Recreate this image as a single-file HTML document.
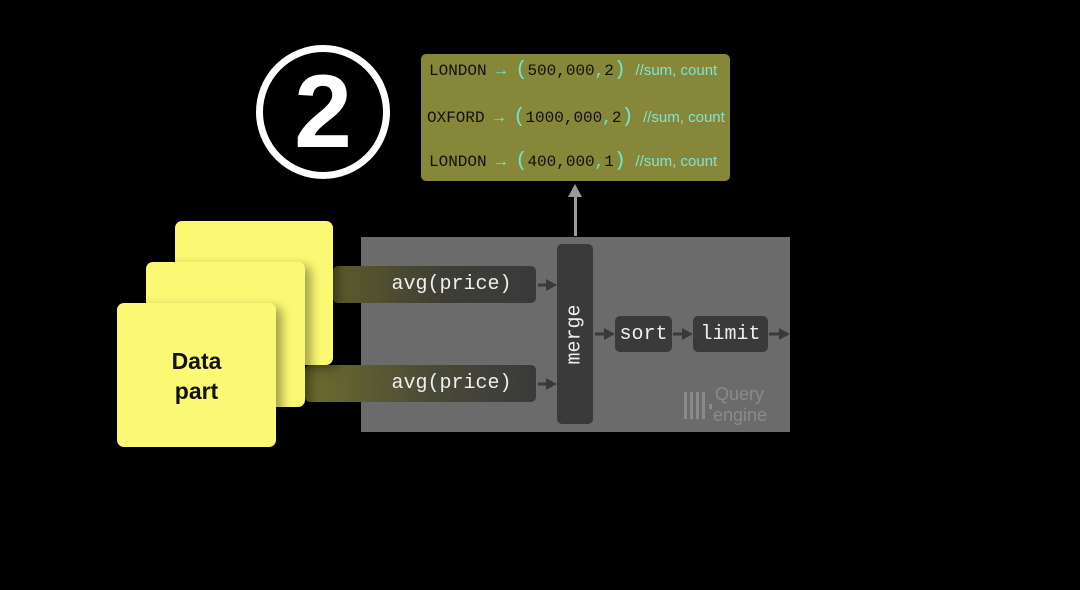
<!DOCTYPE html>
<html><head><style>
body{margin:0;width:1080px;height:590px;background:#000;position:relative;overflow:hidden;font-family:"Liberation Sans",sans-serif}
div{position:absolute;box-sizing:border-box}
.card{background:#fbf873;border-radius:7px;box-shadow:6px 4px 10px rgba(0,0,0,.35)}
.mono{font-family:"Liberation Mono",monospace}
.box{background:#3a3a3a;border-radius:5px;color:#eee;font-size:20px;display:flex;align-items:center;justify-content:center}
.ln{left:8px;font-size:16px;color:#111;white-space:pre}
.ln .c{color:#6ee7d9}
.ln .p{color:#6ee7d9;font-size:20px}
.ln .s{font-family:"Liberation Sans",sans-serif;color:#7fe3d6;font-size:15px}
</style></head><body>
<div style="left:256px;top:45px;width:134px;height:134px;border:7px solid #fff;border-radius:50%;color:#fff;font-weight:bold;font-size:104px;display:flex;align-items:center;justify-content:center;line-height:1">2</div>
<div style="left:421px;top:54px;width:309px;height:127px;background:#87873a;border-radius:5px">
<div class="ln mono" style="top:5px">LONDON <span class="c">→ </span><span class="p">(</span>500,000<span class="c">,</span>2<span class="p">)</span> <span class="s">//sum, count</span></div>
<div class="ln mono" style="top:52px;left:6px">OXFORD <span class="c">→ </span><span class="p">(</span>1000,000<span class="c">,</span>2<span class="p">)</span> <span class="s">//sum, count</span></div>
<div class="ln mono" style="top:96px">LONDON <span class="c">→ </span><span class="p">(</span>400,000<span class="c">,</span>1<span class="p">)</span> <span class="s">//sum, count</span></div>
</div>
<div style="left:574px;top:196px;width:3px;height:40px;background:#9a9a9a"></div>
<div style="left:568px;top:184px;width:0;height:0;border-left:7px solid transparent;border-right:7px solid transparent;border-bottom:13px solid #9a9a9a"></div>
<div style="left:361px;top:237px;width:429px;height:195px;background:#6b6b6b"></div>
<div style="left:333px;top:266px;width:203px;height:37px;border-radius:5px;background:linear-gradient(90deg,#5e5c2a,#3e3e36 55%,#3a3a3a)"></div>
<div class="mono" style="left:350px;top:266px;width:203px;height:37px;color:#eee;font-size:20px;display:flex;align-items:center;justify-content:center">avg(price)</div>
<div style="left:305px;top:365px;width:231px;height:37px;border-radius:5px;background:linear-gradient(90deg,#6e6c2c,#4a4a38 55%,#3a3a3a)"></div>
<div class="mono" style="left:350px;top:365px;width:203px;height:37px;color:#eee;font-size:20px;display:flex;align-items:center;justify-content:center">avg(price)</div>
<div class="box" style="left:557px;top:244px;width:36px;height:180px"><span class="mono" style="transform:rotate(-90deg);white-space:nowrap">merge</span></div>
<div class="box mono" style="left:615px;top:316px;width:57px;height:36px">sort</div>
<div class="box mono" style="left:693px;top:316px;width:75px;height:36px">limit</div>
<svg width="1080" height="590" style="position:absolute;left:0;top:0">
<g fill="#3a3a3a" stroke="#3a3a3a" stroke-width="3">
<line x1="538" y1="285" x2="548" y2="285"/><polygon points="546,279 557,285 546,291" stroke="none"/>
<line x1="538" y1="384" x2="548" y2="384"/><polygon points="546,378 557,384 546,390" stroke="none"/>
<line x1="595" y1="334" x2="605" y2="334"/><polygon points="604,328 615,334 604,340" stroke="none"/>
<line x1="673" y1="334" x2="683" y2="334"/><polygon points="682,328 693,334 682,340" stroke="none"/>
<line x1="769" y1="334" x2="780" y2="334"/><polygon points="779,328 790,334 779,340" stroke="none"/>
</g>
<g fill="#8a8a8a"><rect x="684" y="392" width="3" height="27"/><rect x="690" y="392" width="3" height="27"/><rect x="696" y="392" width="3" height="27"/><rect x="702" y="392" width="3" height="27"/><rect x="709" y="404" width="3" height="5"/></g>
<text x="715" y="400" fill="#8a8a8a" font-family="Liberation Sans" font-size="18">Query</text>
<text x="713" y="421" fill="#8a8a8a" font-family="Liberation Sans" font-size="18">engine</text>
</svg>
<div class="card" style="left:175px;top:221px;width:158px;height:144px"></div>
<div class="card" style="left:146px;top:262px;width:159px;height:145px"></div>
<div class="card" style="left:117px;top:303px;width:159px;height:144px;color:#111;font-weight:bold;font-size:23px;text-align:center;line-height:30px;padding-top:43px">Data<br>part</div>
</body></html>
